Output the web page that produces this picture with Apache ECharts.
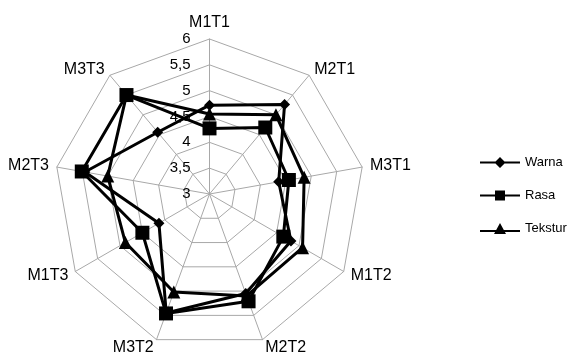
<!DOCTYPE html>
<html>
<head>
<meta charset="utf-8">
<script src="https://cdn.jsdelivr.net/npm/echarts@6/dist/echarts.min.js"></script>
<style>
  html, body { margin: 0; padding: 0; background: #fff; }
  #chart { width: 572px; height: 352px; }
</style>
</head>
<body>
<div id="chart"></div>
<script>
// Axis categories (clockwise from the top)
const categories = ['M1T1', 'M2T1', 'M3T1', 'M1T2', 'M2T2', 'M3T2', 'M1T3', 'M2T3', 'M3T3'];

// Scores per sample, in the same order as the categories
const warna   = [4.72, 5.26, 4.36, 4.82, 5.05, 5.45, 4.13, 5.45, 4.56];
const rasa    = [4.27, 4.68, 4.56, 4.65, 5.21, 5.46, 4.50, 5.51, 5.50];
const tekstur = [4.55, 5.00, 4.86, 5.08, 5.10, 5.02, 4.88, 5.00, 5.50];

// Radial scale
const scaleMin = 3;
const scaleMax = 6;
const scaleStep = 0.5;

const center = [209.5, 194];
const radius = 155;
const font = 'Liberation Sans, Arial, sans-serif';
const ink = '#000';
const gridColor = '#a8a8a8';

// The radar lays its axes out counter-clockwise; keep the first axis on top
// and walk the rest backwards so the categories run clockwise.
const order = [0].concat(categories.map((_, i) => i).slice(1).reverse());
const clockwise = arr => order.map(i => arr[i]);

// Legend icons: a line with the series marker in the middle (40 x 12 box)
const iconLine = 'M0,5 L40,5 L40,7 L0,7 Z ';
const legendIcons = {
  Warna:   'path://' + iconLine + 'M20,0.5 L25.5,6 L20,11.5 L14.5,6 Z',
  Rasa:    'path://' + iconLine + 'M15,1 L25,1 L25,11 L15,11 Z',
  Tekstur: 'path://' + 'M0,7 L40,7 L40,9 L0,9 Z ' + 'M20,0 L26,11 L14,11 Z'
};

const chart = echarts.init(document.getElementById('chart'), null, { renderer: 'canvas' });

function seriesOf(name, values, symbol, size) {
  return {
    type: 'radar',
    name: name,
    symbol: symbol,
    symbolSize: size,
    lineStyle: { color: '#000', width: 3 },
    itemStyle: { color: '#000' },
    data: [{ name: name, value: clockwise(values) }]
  };
}

chart.setOption({
  animation: false,
  textStyle: { fontFamily: font },
  legend: {
    orient: 'vertical',
    left: 475,
    top: 151,
    itemWidth: 40,
    itemHeight: 12,
    itemGap: 20,
    textStyle: { color: ink, fontSize: 13, fontFamily: font },
    data: ['Warna', 'Rasa', 'Tekstur'].map(n => ({ name: n, icon: legendIcons[n] }))
  },
  radar: {
    center: center,
    radius: radius,
    startAngle: 90,
    shape: 'polygon',
    splitNumber: (scaleMax - scaleMin) / scaleStep,
    indicator: clockwise(categories).map(c => ({ name: c, min: scaleMin, max: scaleMax })),
    axisName: { color: ink, fontSize: 16, fontFamily: font },
    nameGap: 8,
    splitArea: { show: false },
    splitLine: { lineStyle: { color: gridColor, width: 1 } },
    axisLine: { lineStyle: { color: gridColor, width: 1 } }
  },
  polar: { center: center, radius: radius },
  angleAxis: { show: false, startAngle: 90, min: 0, max: 360 },
  radiusAxis: {
    min: scaleMin,
    max: scaleMax,
    interval: scaleStep,
    axisLine: { show: false },
    axisTick: { show: false },
    splitLine: { show: false },
    axisLabel: {
      color: ink,
      fontSize: 15,
      fontFamily: font,
      margin: 19,
      formatter: v => String(v).replace('.', ',')
    }
  },
  series: [
    seriesOf('Tekstur', tekstur, 'triangle', 13),
    seriesOf('Warna', warna, 'diamond', 11),
    seriesOf('Rasa', rasa, 'rect', 14)
  ]
});
</script>
</body>
</html>
